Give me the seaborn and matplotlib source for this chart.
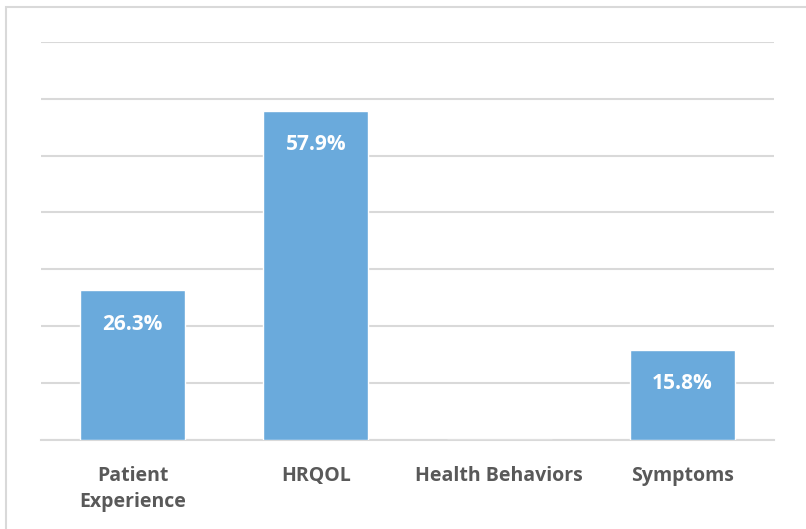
import matplotlib
matplotlib.use("Agg")
import matplotlib.pyplot as plt
import seaborn as sns
import pandas as pd
from matplotlib.patches import Rectangle

categories = ["Patient\nExperience", "HRQOL", "Health Behaviors", "Symptoms"]
values = [26.3, 57.9, 0.0, 15.8]
labels = ["26.3%", "57.9%", "", "15.8%"]

sns.set_theme(style="white")
plt.rcParams["font.family"] = ["Open Sans", "DejaVu Sans"]

W, H = 806, 529
fig = plt.figure(figsize=(W / 100, H / 100), dpi=100)
ax = fig.add_axes([41 / W, 1 - 439.5 / H, (774 - 41) / W, (439.5 - 42) / H])

# chart frame
fig.patches.append(Rectangle((6 / W, -0.1), 1.2, 1 - 7 / H + 0.1, transform=fig.transFigure,
                             fill=False, edgecolor="#D9D9D9", linewidth=1.5, zorder=0))

df = pd.DataFrame({"category": categories, "value": values})
sns.barplot(data=df, x="category", y="value", color="#6AAADC", saturation=1,
            width=0.573, ax=ax, zorder=3)

ax.set_ylim(0, 70)
ax.set_yticks(range(0, 71, 10))
ax.yaxis.grid(True, color="#D9D9D9", linewidth=1.5, zorder=0)
ax.set_axisbelow(True)
ax.tick_params(axis="y", left=False, labelleft=False)
ax.tick_params(axis="x", bottom=False, pad=13)
for lbl in ax.get_xticklabels():
    lbl.set_fontweight("bold")
    lbl.set_fontsize(14)
    lbl.set_color("#595959")
    lbl.set_verticalalignment("top")
    lbl.set_linespacing(1.4)
ax.set_xlabel("")
ax.set_ylabel("")
for s in ["top", "right", "left"]:
    ax.spines[s].set_visible(False)
ax.spines["bottom"].set_color("#D9D9D9")
ax.spines["bottom"].set_linewidth(1.5)

for patch, text in zip(ax.patches, labels):
    if not text:
        continue
    x = patch.get_x() + patch.get_width() / 2
    top = patch.get_height()
    ax.annotate(text, (x, top), xytext=(0, -34), textcoords="offset pixels",
                ha="center", va="center", color="white", fontweight="bold", fontsize=15, zorder=4)

fig.savefig("out.png", dpi=100)
